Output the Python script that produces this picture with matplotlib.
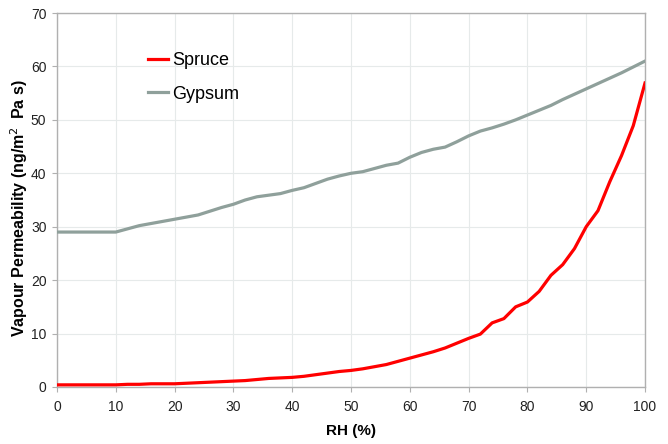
import matplotlib
matplotlib.use("Agg")
import matplotlib.pyplot as plt

plt.rcParams["font.family"] = ["Liberation Sans", "DejaVu Sans"]

# Relative humidity steps (%)
rh = [0, 2, 4, 6, 8, 10, 12, 14, 16, 18, 20, 22, 24, 26, 28, 30, 32, 34, 36, 38,
      40, 42, 44, 46, 48, 50, 52, 54, 56, 58, 60, 62, 64, 66, 68, 70, 72, 74, 76, 78,
      80, 82, 84, 86, 88, 90, 92, 94, 96, 98, 100]

# Vapour permeability (ng/m2 Pa s)
spruce = [0.4, 0.4, 0.4, 0.4, 0.4, 0.4, 0.5, 0.5, 0.6, 0.6, 0.6, 0.7, 0.8, 0.9, 1.0, 1.1, 1.2, 1.4, 1.6, 1.7,
          1.8, 2.0, 2.3, 2.6, 2.9, 3.1, 3.4, 3.8, 4.2, 4.8, 5.4, 6.0, 6.6, 7.3, 8.2, 9.1, 9.9, 12.0, 12.8, 15.0,
          15.9, 17.9, 20.9, 22.9, 25.9, 30.0, 33.0, 38.4, 43.3, 48.9, 56.9]
gypsum = [29.0, 29.0, 29.0, 29.0, 29.0, 29.0, 29.6, 30.2, 30.6, 31.0, 31.4, 31.8, 32.2, 32.9, 33.6, 34.2, 35.0, 35.6, 35.9, 36.2,
          36.8, 37.3, 38.1, 38.9, 39.5, 40.0, 40.3, 40.9, 41.5, 41.9, 43.0, 43.9, 44.5, 44.9, 45.9, 47.0, 47.9, 48.5, 49.2, 50.0,
          50.9, 51.8, 52.7, 53.8, 54.8, 55.8, 56.8, 57.8, 58.8, 59.9, 61.0]

fig = plt.figure(figsize=(6.68, 4.44), dpi=100)
ax = fig.add_axes([0.0853, 0.1284, 0.8803, 0.8423])

ax.plot(rh, spruce, color="#ff0000", linewidth=2.3, label="Spruce", zorder=3)
ax.plot(rh, gypsum, color="#8fa09b", linewidth=2.3, label="Gypsum", zorder=3)

ax.set_xlim(0, 100)
ax.set_ylim(0, 70)
ax.set_xticks(range(0, 101, 10))
ax.set_yticks(range(0, 71, 10))
ax.grid(True, color="#e6eaea", linewidth=0.8)
ax.set_axisbelow(True)

for side in ax.spines.values():
    side.set_color("#b0b0b0")
    side.set_linewidth(1.0)
ax.tick_params(direction="out", length=3.6, color="#b0b0b0", labelsize=10,
               labelcolor="#222222")
ax.tick_params(axis="x", pad=6)
ax.tick_params(axis="y", pad=4)

ax.set_xlabel("RH (%)", fontsize=11, fontweight="bold", labelpad=7)
ax.set_ylabel("Vapour Permeability (ng/m$^{2}$\u2009 Pa s)", fontsize=11.5,
              fontweight="bold")
ax.yaxis.set_label_coords(-0.046, 0.479)

ax.legend(loc="upper left", bbox_to_anchor=(0.155, 0.895), frameon=False,
          fontsize=13, handlelength=1.1, handletextpad=0.25, labelspacing=0.9,
          borderaxespad=0, borderpad=0)

fig.savefig("out.png", dpi=100)
